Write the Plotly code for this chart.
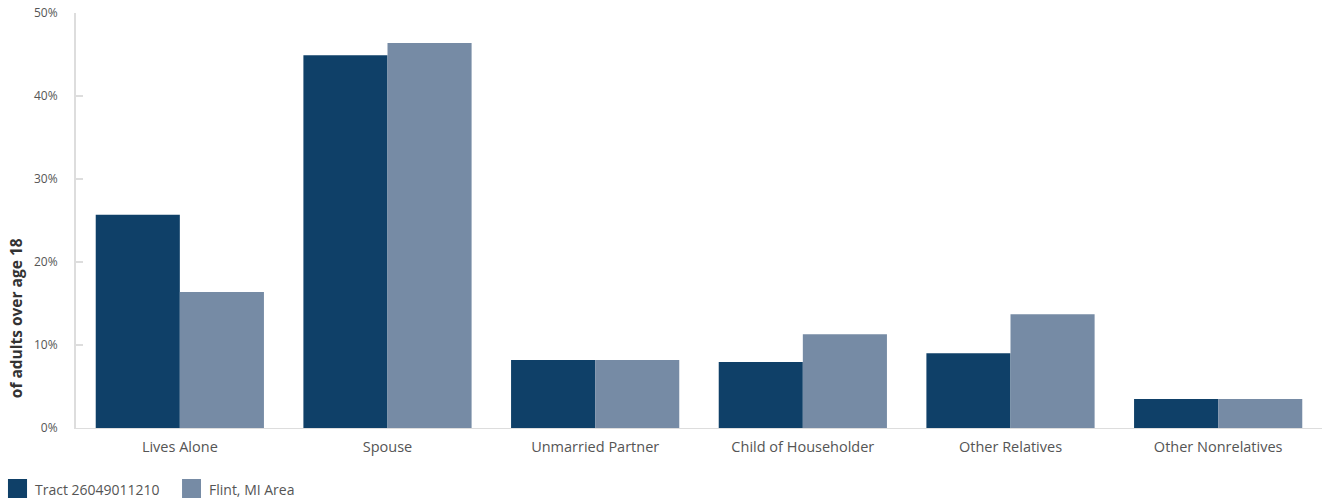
import plotly.graph_objects as go

categories = ["Lives Alone", "Spouse", "Unmarried Partner", "Child of Householder",
              "Other Relatives", "Other Nonrelatives"]
tract_vals = [25.7, 44.9, 8.2, 7.95, 9.0, 3.5]
flint_vals = [16.4, 46.4, 8.2, 11.3, 13.7, 3.5]
series_names = ["Tract 26049011210", "Flint, MI Area"]
series_colors = ["#0F4068", "#768BA5"]
tick_vals = [0, 10, 20, 30, 40, 50]
tick_text = ["0%", "10%", "20%", "30%", "40%", "50%"]

fig = go.Figure()
fig.add_trace(go.Bar(x=categories, y=tract_vals, name=series_names[0],
                     marker=dict(color=series_colors[0], line=dict(width=0))))
fig.add_trace(go.Bar(x=categories, y=flint_vals, name=series_names[1],
                     marker=dict(color=series_colors[1], line=dict(width=0))))

# manual legend (bigger swatches like the reference)
shapes = []
annotations = []
legend_pos = [(-0.0546, -0.0393, -0.0345), (0.0851, 0.1003, 0.1051)]
for (x0, x1, xt), name, col in zip(legend_pos, series_names, series_colors):
    shapes.append(dict(type="rect", xref="paper", yref="paper", x0=x0, x1=x1,
                       y0=-0.1687, y1=-0.1229, fillcolor=col, line=dict(width=0)))
    annotations.append(dict(text=name, xref="paper", yref="paper", x=xt, y=-0.147,
                            xanchor="left", yanchor="middle", showarrow=False,
                            font=dict(size=14, color="#555555")))

annotations.append(dict(text="<b>of adults over age 18</b>", textangle=-90,
                        xref="paper", yref="paper", x=-0.048, y=0.265,
                        xanchor="center", yanchor="middle", showarrow=False,
                        font=dict(size=15.5, color="#333333")))

fig.update_layout(
    width=1326, height=501,
    margin=dict(l=76, r=4, t=13, b=73),
    paper_bgcolor="white", plot_bgcolor="white",
    barmode="group", bargap=0.19, bargroupgap=0,
    font=dict(family="Open Sans", color="#555555", size=12),
    showlegend=False,
    xaxis=dict(showgrid=False, showline=True, linecolor="#dddddd", linewidth=1,
               ticks="", ticklabelstandoff=6,
               tickfont=dict(size=14.5, color="#555555")),
    yaxis=dict(range=[0, 50], tickvals=tick_vals, ticktext=tick_text,
               showgrid=False, zeroline=False, showline=True, linecolor="#dddddd",
               linewidth=2, ticks="inside", ticklen=7, tickcolor="#dddddd", tickwidth=2,
               ticklabelstandoff=14,
               tickfont=dict(size=12, color="#555555")),
    shapes=shapes,
    annotations=annotations,
)

fig.write_html("out.html")
